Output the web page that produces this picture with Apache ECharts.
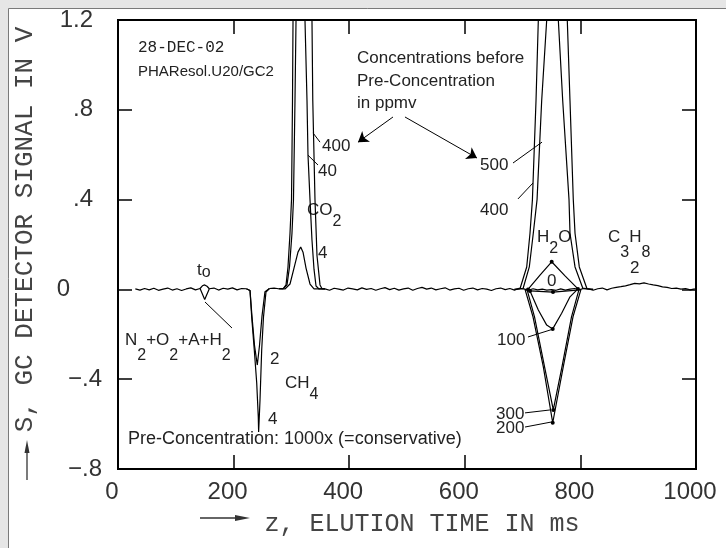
<!DOCTYPE html>
<html>
<head>
<meta charset="utf-8">
<script src="https://cdn.jsdelivr.net/npm/echarts@6/dist/echarts.min.js"></script>
<style>
html, body { margin: 0; padding: 0; background: #e6e6e6; }
#main { width: 726px; height: 548px; }
</style>
</head>
<body>
<div id="main"></div>
<script>
// baseline trace, sampled every 8 ms from 30 ms, values in mV (null = gap under a peak)
var baseStart = 30, baseStep = 8;
var baseNoise = [
    2, -3, 4, -2, 5, -4, 1, 6, -3, 3,
    -5, 2, 7, -2, 4, -45, 3, 6, -3, 5,
    1, 7, -2, 4, 3, null, null, null, null, 4,
    6, 3, null, null, null, null, null, null, null, null,
    null, 2, -4, 5, 1, -3, 6, 2, -2, 7,
    0, 4, -4, 3, 8, -1, 5, -3, 2, 6,
    -4, 4, 9, 1, 6, -2, 3, 7, -3, 2,
    5, -4, 3, 6, -2, 4, 1, -5, 3, 6,
    -1, 4, -3, 5, 2, -4, 3, -2, 1, -3,
    -1, -4, 2, -3, 1, 4, -2, 5, 2, -4,
    3, 6, -2, 5, 9, 12, 16, 21, 27, 25,
    29, 24, 20, 17, 11, 9, 4, 6, 1, 4,
    -2, 3
];
var tZero = [[142, 0.004], [146, 0.016], [150, 0.02], [154, 0.014], [158, 0.003]];

// CH4 (negative), 2 and 4 ppmv
var ch4_2 = [[222, 0.003], [228.4, -0.005], [231.8, -0.12], [236.2, -0.25], [241, -0.337], [244.8, -0.25], [249.1, -0.12], [254.3, -0.01], [262, 0.004]];
var ch4_4 = [[222, 0.003], [228.4, -0.005], [231.3, -0.123], [235.8, -0.27], [240, -0.417], [242.7, -0.568], [243.3, -0.635], [245.7, -0.493], [248.6, -0.27], [251.7, -0.123], [256, -0.012], [262, 0.004]];

// CO2, 400 / 40 / 4 ppmv
var co2_400 = [[278, 0.003], [286, 0.004], [290.7, 0.02], [294.1, 0.1], [297.6, 0.25], [300.2, 0.4], [301.9, 0.84], [302.8, 1.2], [319, 3.2], [335.6, 1.2], [337, 0.84], [338.2, 0.7], [340.8, 0.4], [344.3, 0.15], [349.5, 0.02], [353, 0.003], [358, 0.002]];
var co2_40 = [[278, 0.003], [285.5, 0.002], [292.4, 0.02], [296.7, 0.1], [301, 0.25], [303.6, 0.4], [306.2, 0.84], [308, 1.2], [315.7, 2.8], [323.5, 1.2], [327, 0.84], [328.7, 0.6], [332.2, 0.4], [335.6, 0.22], [339.1, 0.09], [342.6, 0.015], [347.8, 0.002], [358, 0.002]];
var co2_4 = [[278, 0.003], [288.9, 0.002], [297.6, 0.024], [304.5, 0.095], [311.4, 0.166], [316.1, 0.189], [320.1, 0.166], [325.3, 0.095], [332.2, 0.024], [339.1, 0.002], [358, 0.002]];

// H2O, 500 / 400 (positive) and 0 / 100 / 200 / 300 ppmv
var h2o_outer = [[686, 0], [695.5, 0.003], [707.1, 0.1], [712.8, 0.25], [717, 0.4], [723.2, 0.84], [727.2, 1.2], [752, 3.2], [777.3, 1.2], [782, 0.84], [787.7, 0.4], [790.7, 0.25], [798.1, 0.1], [811.4, 0.003], [822, 0]];
var h2o_inner = [[686, 0], [700.7, 0.003], [711.6, 0.1], [718.5, 0.25], [725, 0.4], [733, 0.84], [741.7, 1.2], [752, 2.6], [761.8, 1.2], [769.4, 0.84], [780.3, 0.4], [782, 0.25], [790.7, 0.1], [804.5, 0.003], [822, 0]];
var h2o_bump = [[709.3, 0], [730.1, 0.064], [750.3, 0.123], [773.4, 0.06], [795.8, 0.002]];
var h2o_0 = [[712.8, -0.007], [752.6, -0.012], [794.1, -0.003]];
var h2o_100 = [[712.8, -0.007], [727.2, -0.092], [741.7, -0.159], [752.1, -0.176], [767.6, -0.106], [782, -0.033], [793.6, -0.003]];
var h2o_300 = [[707.6, 0], [720.6, -0.122], [737.9, -0.344], [753.1, -0.537], [768.2, -0.344], [784.6, -0.122], [797.6, 0]];
var h2o_200 = [[704.2, 0], [718, -0.122], [735.8, -0.344], [752.1, -0.594], [770.4, -0.344], [787.2, -0.122], [801, 0]];
var dotIdx = {bump: [0, 2, 4], zero: [1], n100: [0, 3], n300: [3], n200: [3]};

// leader lines and arrows (data coords)
var leaders = [
    [[150.5, -0.056], [197.2, -0.172]],
    [[337.4, 0.697], [349.5, 0.656]],
    [[328.7, 0.598], [346, 0.554]],
    [[683.4, 0.563], [733.6, 0.656]],
    [[692, 0.403], [718, 0.474]],
    [[709.3, -0.212], [752.6, -0.177]],
    [[704.2, -0.55], [747.4, -0.537]],
    [[704.2, -0.613], [749.1, -0.591]]
];
var arrows = [
    [[475.8, 0.768], [415.2, 0.656]],
    [[496.5, 0.768], [621.1, 0.585]]
];

var yLabels = {'12': '1.2', '8': '.8', '4': '.4', '0': '0', '-4': '−.4', '-8': '−.8'};

// annotation texts: [text, left, middle y, font size]
var notes = [
    ['Concentrations before', 357, 58.5, 17],
    ['Pre-Concentration', 357, 81, 17],
    ['in ppmv', 357, 103.5, 17],
    ['400', 322, 146.5, 17],
    ['40', 318, 171, 17],
    ['4', 318, 253, 17],
    ['2', 270, 359, 17],
    ['4', 268, 419, 17],
    ['Pre-Concentration: 1000x (=conservative)', 128, 439, 18],
    ['500', 480, 165, 17],
    ['400', 480, 210, 17],
    ['0', 547, 281, 17],
    ['2', 630, 268, 17],
    ['100', 497, 340, 17],
    ['300', 496, 414, 17],
    ['200', 496, 428, 17]
];
// formulas with subscripts: [text, left, middle y, subscript drop]
var formulas = [
    ['t_o', 197, 271, 1],
    ['N_2+O_2+A+H_2', 125, 341, 14],
    ['CO_2', 307, 211, 10],
    ['CH_4', 285, 384, 10],
    ['H_2O', 537, 238, 10],
    ['C_3H_8', 608, 238, 14]
];

var SANS = '"Liberation Sans", Arial, sans-serif';
var MONO = '"Liberation Mono", "DejaVu Sans Mono", monospace';

var chart = echarts.init(document.getElementById('main'));

var baseline = baseNoise.map(function (v, i) {
    return [baseStart + baseStep * i, v === null ? '-' : v / 1000];
});

function trace(data, dots) {
    var s = {
        type: 'line', data: data, symbol: 'none', animation: false,
        lineStyle: {color: '#000', width: 1.2}, z: 3
    };
    if (dots) {
        s.symbol = 'circle';
        s.showSymbol = true;
        s.showAllSymbol = true;
        s.itemStyle = {color: '#000'};
        s.data = data.map(function (p, i) {
            return {value: p, symbolSize: dots.indexOf(i) >= 0 ? 4 : 0};
        });
    }
    return s;
}

function subText(str) {
    var out = '', i = 0;
    while (i < str.length) {
        if (str[i] === '_') {
            out += '{s|' + str[i + 1] + '}';
            i += 2;
        } else {
            var j = i;
            while (j < str.length && str[j] !== '_') j++;
            out += '{m|' + str.slice(i, j) + '}';
            i = j;
        }
    }
    return out;
}

var graphics = [
    {type: 'rect', z: -10, silent: true, shape: {x: 8.5, y: 8.5, width: 740, height: 560},
        style: {fill: '#fff', stroke: '#7a7a7a', lineWidth: 1}},
    {type: 'text', x: 138, y: 48, style: {text: '28-DEC-02', font: '16px ' + MONO, fill: '#222', verticalAlign: 'middle'}},
    {type: 'text', x: 138, y: 72, style: {text: 'PHAResol.U20/GC2', font: '15px ' + SANS, fill: '#222', verticalAlign: 'middle'}},
    // axis names with arrows
    {type: 'text', x: 25, y: 229.5, rotation: Math.PI / 2,
        style: {text: 'S, GC DETECTOR SIGNAL IN V', font: '26px ' + MONO, fill: '#444', align: 'center', verticalAlign: 'middle'}},
    {type: 'line', shape: {x1: 27, y1: 480, x2: 27, y2: 450}, style: {stroke: '#333', lineWidth: 1.3}},
    {type: 'polygon', shape: {points: [[27, 440], [24.5, 453], [29.5, 453]]}, style: {fill: '#333'}},
    {type: 'text', x: 422, y: 524,
        style: {text: 'z, ELUTION TIME IN ms', font: '25px ' + MONO, fill: '#444', align: 'center', verticalAlign: 'middle'}},
    {type: 'line', shape: {x1: 200, y1: 518, x2: 236, y2: 518}, style: {stroke: '#333', lineWidth: 1.3}},
    {type: 'polygon', shape: {points: [[250, 518], [235, 515], [235, 521]]}, style: {fill: '#333'}}
];
notes.forEach(function (n) {
    graphics.push({type: 'text', x: n[1], y: n[2],
        style: {text: n[0], font: n[3] + 'px ' + SANS, fill: '#222', verticalAlign: 'middle'}});
});
formulas.forEach(function (f) {
    graphics.push({type: 'text', x: f[1], y: f[2] - 9,
        style: {
            text: subText(f[0]), fill: '#222', verticalAlign: 'top', align: 'left',
            rich: {
                m: {fontSize: 17, fontFamily: SANS, fill: '#222', lineHeight: 18, verticalAlign: 'top'},
                s: {fontSize: 16, fontFamily: SANS, fill: '#222', lineHeight: 18 + f[3], verticalAlign: 'bottom'}
            }
        }});
});

var tickStyle = {show: true, inside: true, length: 14, lineStyle: {color: '#000', width: 1.5}};
var noLine = {show: false, onZero: false};

var option = {
    animation: false,
    backgroundColor: '#e6e6e6',
    grid: {left: 118, right: 30, top: 20, bottom: 79, show: true, borderColor: '#000', borderWidth: 2, backgroundColor: 'transparent'},
    xAxis: [{
        type: 'value', min: 0, max: 1000, interval: 200, position: 'bottom',
        axisLine: noLine, axisTick: tickStyle, splitLine: {show: false},
        axisLabel: {fontSize: 24, fontFamily: SANS, color: '#333', margin: 11, padding: [0, 12, 0, 0],
            formatter: function (v) { return String(v); }}
    }, {
        type: 'value', min: 0, max: 1000, interval: 200, position: 'top',
        axisLine: noLine, axisTick: tickStyle, splitLine: {show: false}, axisLabel: {show: false}
    }],
    yAxis: [{
        type: 'value', min: -0.8, max: 1.2, interval: 0.4, position: 'left',
        axisLine: noLine, axisTick: tickStyle, splitLine: {show: false},
        axisLabel: {
            margin: 16, fontSize: 24, fontFamily: SANS, color: '#333',
            formatter: function (v) {
                var k = String(Math.round(v * 10));
                var t = yLabels[k];
                if (k === '0') return '{z|' + t + '}';
                if (v < 0) return '{n|' + t + '}';
                return '{a|' + t + '}';
            },
            rich: {
                a: {fontSize: 24, fontFamily: SANS, color: '#333', padding: [0, 9, 0, 0]},
                z: {fontSize: 24, fontFamily: SANS, color: '#333', padding: [0, 32, 0, 0]},
                n: {fontSize: 24, fontFamily: SANS, color: '#333'}
            }
        }
    }, {
        type: 'value', min: -0.8, max: 1.2, interval: 0.4, position: 'right',
        axisLine: noLine, axisTick: tickStyle, splitLine: {show: false}, axisLabel: {show: false}
    }],
    graphic: graphics,
    series: [
        trace(baseline),
        trace(tZero),
        trace(ch4_2),
        trace(ch4_4),
        trace(co2_400),
        trace(co2_40),
        trace(co2_4),
        trace(h2o_outer),
        trace(h2o_inner),
        trace(h2o_bump, dotIdx.bump),
        trace(h2o_0, dotIdx.zero),
        trace(h2o_100, dotIdx.n100),
        trace(h2o_300, dotIdx.n300),
        trace(h2o_200, dotIdx.n200),
        {
            type: 'lines', coordinateSystem: 'cartesian2d', z: 4, silent: true,
            lineStyle: {color: '#000', width: 1, opacity: 1},
            data: leaders.map(function (c) { return {coords: c}; })
        },
        {
            type: 'lines', coordinateSystem: 'cartesian2d', z: 4, silent: true,
            symbol: ['none', 'arrow'], symbolSize: 10,
            lineStyle: {color: '#000', width: 1, opacity: 1},
            data: arrows.map(function (c) { return {coords: c}; })
        }
    ]
};
chart.setOption(option);
</script>
</body>
</html>
